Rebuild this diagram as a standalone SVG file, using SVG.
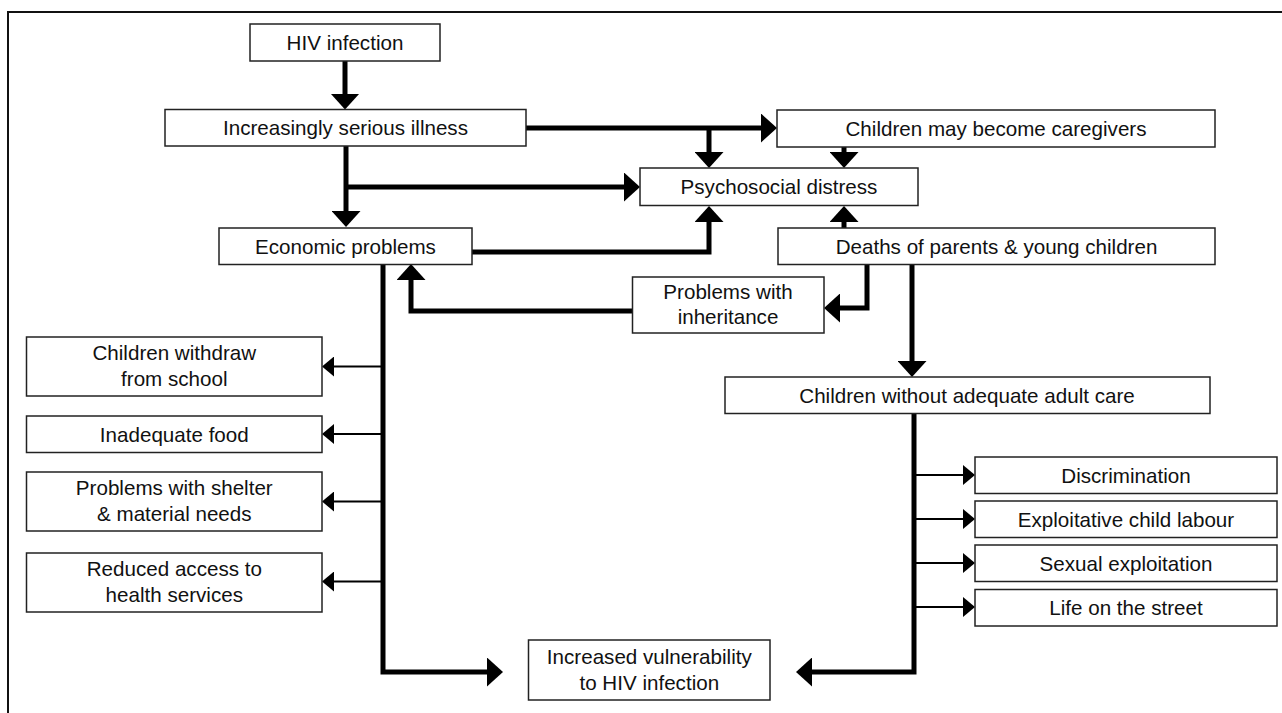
<svg xmlns="http://www.w3.org/2000/svg" width="1282" height="713" viewBox="0 0 1282 713">
<style>
.box{fill:#fff;stroke:#222;stroke-width:1.5}
.t{font-family:"Liberation Sans",Arial,sans-serif;font-size:20.6px;fill:#111;text-anchor:middle}
.thick{fill:none;stroke:#000;stroke-width:5;stroke-linejoin:miter;marker-end:url(#big)}
.thin{fill:none;stroke:#000;stroke-width:2.2;marker-end:url(#small)}
.frame{fill:none;stroke:#111;stroke-width:2}
</style>
<defs>
<marker id="big" markerUnits="userSpaceOnUse" viewBox="0 0 16 29" markerWidth="16" markerHeight="29" refX="2" refY="14.5" orient="auto">
<path d="M0,0 L16,14.5 L0,29 Z" fill="#000"/>
</marker>
<marker id="small" markerUnits="userSpaceOnUse" viewBox="0 0 12 20" markerWidth="12" markerHeight="20" refX="2" refY="10" orient="auto">
<path d="M0,0 L12,10 L0,20 Z" fill="#000"/>
</marker>
</defs>
<rect width="1282" height="713" fill="#fff"/>
<path class="frame" d="M8,713 V12 H1282"/>

<g id="connectors">
<path class="thick" d="M345,61 V95.5"/>
<path class="thick" d="M526,128 H763"/>
<path class="thick" d="M709,128 V154"/>
<path class="thick" d="M844,147 V154"/>
<path class="thick" d="M346,146 V213"/>
<path class="thick" d="M346,187 H626"/>
<path class="thick" d="M472,252 H709 V220"/>
<path class="thick" d="M844,228 V220"/>
<path class="thick" d="M867,264 V308 H838"/>
<path class="thick" d="M633,311 H411 V278"/>
<path class="thick" d="M912,264 V363"/>
<path class="thick" d="M383,264 V672 H489"/>
<path class="thick" d="M914,413 V672 H810"/>
<path class="thin" d="M383,366.5 H332"/>
<path class="thin" d="M383,434 H332"/>
<path class="thin" d="M383,501.5 H332"/>
<path class="thin" d="M383,581.5 H332"/>
<path class="thin" d="M914,475 H965"/>
<path class="thin" d="M914,519 H965"/>
<path class="thin" d="M914,563 H965"/>
<path class="thin" d="M914,607 H965"/>
</g>

<g id="hiv"><rect class="box" x="250" y="24" width="190" height="37"/><text class="t" x="345" y="50">HIV infection</text></g>
<g id="illness"><rect class="box" x="165" y="109.5" width="361" height="36.5"/><text class="t" x="345.5" y="135">Increasingly serious illness</text></g>
<g id="caregivers"><rect class="box" x="777" y="110" width="438" height="37"/><text class="t" x="996" y="136">Children may become caregivers</text></g>
<g id="psychosocial"><rect class="box" x="640" y="168" width="278" height="37.5"/><text class="t" x="779" y="194">Psychosocial distress</text></g>
<g id="economic"><rect class="box" x="219" y="228" width="253" height="36.5"/><text class="t" x="345.5" y="253.5">Economic problems</text></g>
<g id="deaths"><rect class="box" x="778" y="228" width="437" height="36.5"/><text class="t" x="996.5" y="254">Deaths of parents &amp; young children</text></g>
<g id="inheritance"><rect class="box" x="632.5" y="277" width="191.5" height="56"/><text class="t" x="728" y="299">Problems with</text><text class="t" x="728" y="324">inheritance</text></g>
<g id="school"><rect class="box" x="26.5" y="337" width="295.5" height="59"/><text class="t" x="174.3" y="360">Children withdraw</text><text class="t" x="174.3" y="386">from school</text></g>
<g id="food"><rect class="box" x="26.5" y="416" width="295.5" height="36.5"/><text class="t" x="174.3" y="441.5">Inadequate food</text></g>
<g id="shelter"><rect class="box" x="26.5" y="472" width="295.5" height="59"/><text class="t" x="174.3" y="495">Problems with shelter</text><text class="t" x="174.3" y="521">&amp; material needs</text></g>
<g id="health"><rect class="box" x="26.5" y="553" width="295.5" height="59"/><text class="t" x="174.3" y="576">Reduced access to</text><text class="t" x="174.3" y="602">health services</text></g>
<g id="care"><rect class="box" x="725" y="377" width="485" height="36.5"/><text class="t" x="967" y="402.5">Children without adequate adult care</text></g>
<g id="discrimination"><rect class="box" x="975" y="457" width="302" height="36.5"/><text class="t" x="1126" y="482.5">Discrimination</text></g>
<g id="labour"><rect class="box" x="975" y="501" width="302" height="36.5"/><text class="t" x="1126" y="526.5">Exploitative child labour</text></g>
<g id="sexual"><rect class="box" x="975" y="545" width="302" height="36.5"/><text class="t" x="1126" y="570.5">Sexual exploitation</text></g>
<g id="street"><rect class="box" x="975" y="589.5" width="302" height="36.5"/><text class="t" x="1126" y="615">Life on the street</text></g>
<g id="vulnerability"><rect class="box" x="528.5" y="640" width="241.5" height="60"/><text class="t" x="649.3" y="663.5">Increased vulnerability</text><text class="t" x="649.3" y="689.5">to HIV infection</text></g>
</svg>
